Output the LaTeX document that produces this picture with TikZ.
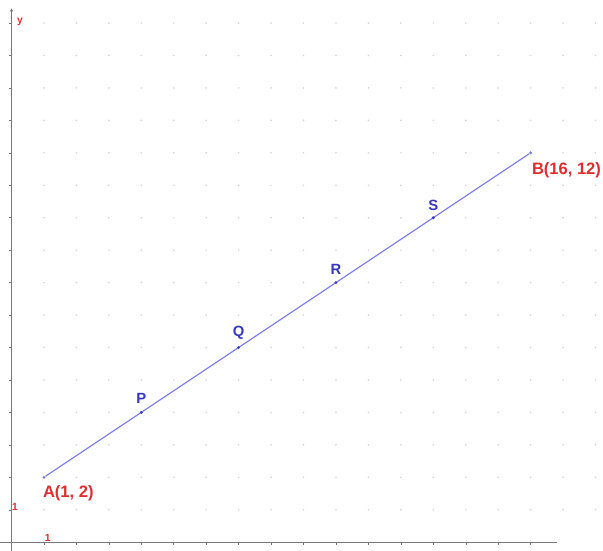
\documentclass[tikz,border=0pt]{standalone}
\usepackage{fontspec}
\setmainfont{Liberation Sans}
\usetikzlibrary{arrows.meta, positioning, calc}
\definecolor{segblue}{RGB}{125,125,235}
\definecolor{ptblue}{RGB}{55,55,195}
\definecolor{lblred}{RGB}{225,45,45}
\definecolor{axgray}{RGB}{120,120,120}
\definecolor{dotgray}{RGB}{212,212,212}

\begin{document}
\begin{tikzpicture}[
  pt/.style={circle, fill=ptblue, inner sep=0pt, minimum size=2.8pt},
  endpt/.style={circle, fill=segblue, inner sep=0pt, minimum size=2.8pt},
  ptlabel/.style={font=\fontsize{13}{13}\selectfont\bfseries, text=ptblue, inner sep=1pt},
  endlabel/.style={font=\fontsize{14.5}{14.5}\selectfont\bfseries, text=lblred, inner sep=1pt},
  ticklabel/.style={font=\fontsize{9}{9}\selectfont\bfseries, text=lblred, inner sep=0pt},
  axis/.style={axgray, line width=0.6pt},
]
\useasboundingbox (-0.354,-0.26) rectangle (18.23,16.71);

% dot grid
\foreach \x in {1,...,18}
  \foreach \y in {1,...,16}
    \fill[dotgray] (\x,\y) circle (0.028);

% axes
\coordinate (xstart) at (-0.354,0);
\coordinate (xend) at (16.8,0);
\coordinate (ystart) at (0,-0.26);
\coordinate (yend) at (0,16.45);
\draw[axis] (xstart) -- (xend);
\draw[axis, -{Stealth[length=3pt,width=3pt]}] (ystart) -- (yend);
\foreach \x in {1,...,16}
  \draw[axis, line width=0.4pt] (\x,0) -- (\x,-0.08);
\foreach \y in {1,...,16}
  \draw[axis, line width=0.4pt] (0,\y) -- (-0.08,\y);
\node[ticklabel] (ylab) at (0.26,16.03) {y};
\node[ticklabel] (xone) at (1.12,0.13) {1};
\node[ticklabel] (yone) at (0.11,1.10) {1};

% segment AB and its points
\node[endpt] (A) at (1,2) {};
\node[endpt] (B) at (16,12) {};
\draw[segblue, line width=1pt] (A) -- (B);
\node[pt] (P) at (4,4) {};
\node[pt] (Q) at (7,6) {};
\node[pt] (R) at (10,8) {};
\node[pt] (S) at (13,10) {};

\node[endlabel, anchor=north west] (Alab) at ($(A)+(-0.07,-0.22)$) {A(1, 2)};
\node[endlabel, anchor=north west] (Blab) at ($(B)+(0.0,-0.25)$) {B(16, 12)};
\node[ptlabel, above=0.18 of P] (Plab) {P};
\node[ptlabel, above=0.14 of Q] (Qlab) {Q};
\node[ptlabel, above=0.14 of R] (Rlab) {R};
\node[ptlabel, above=0.12 of S] (Slab) {S};
\end{tikzpicture}
\end{document}
